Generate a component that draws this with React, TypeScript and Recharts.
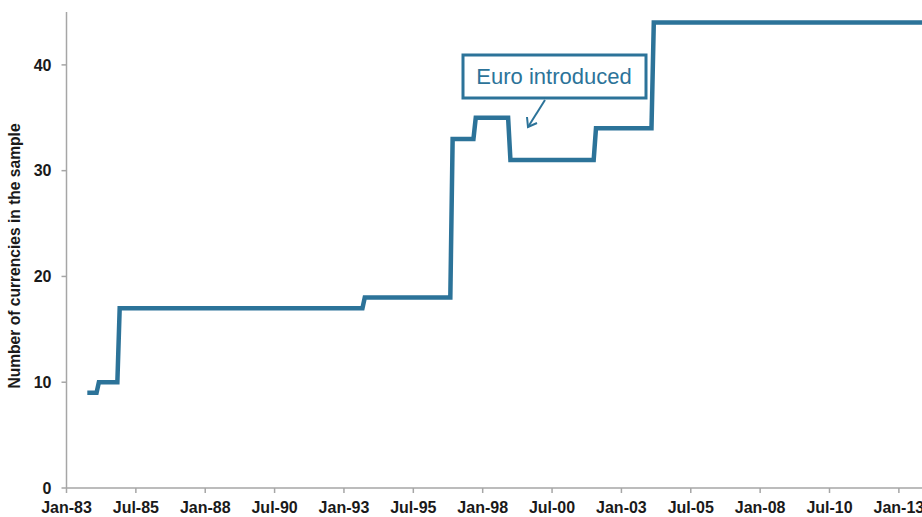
import { LineChart, Line, XAxis, YAxis } from 'recharts'

// change points of the step line (month, currencies)
const dates = [
  '1983-10', '1984-02', '1984-03', '1984-11', '1984-12', '1993-09', '1993-10',
  '1996-11', '1996-12', '1997-09', '1997-10', '1998-12', '1999-01', '2002-01',
  '2002-02', '2004-02', '2004-03', '2013-11',
]
const counts = [9, 9, 10, 10, 17, 17, 18, 18, 33, 33, 35, 35, 31, 31, 34, 34, 44, 44]

const tickDates = [
  '1983-01', '1985-07', '1988-01', '1990-07', '1993-01', '1995-07', '1998-01',
  '2000-07', '2003-01', '2005-07', '2008-01', '2010-07', '2013-01',
]
const tickLabels = [
  'Jan-83', 'Jul-85', 'Jan-88', 'Jul-90', 'Jan-93', 'Jul-95', 'Jan-98',
  'Jul-00', 'Jan-03', 'Jul-05', 'Jan-08', 'Jul-10', 'Jan-13',
]
const yTicks = [0, 10, 20, 30, 40]

const BLUE = '#2c7399'
const GRID = '#a6a6a6'
const FONT = '"Liberation Sans", Arial, sans-serif'

const toMonth = (d: string) => {
  const [y, m] = d.split('-').map(Number)
  return (y - 1983) * 12 + (m - 1)
}

const data = dates.map((d, i) => ({ m: toMonth(d), v: counts[i] }))
const ticks = tickDates.map(toMonth)
const endMonth = toMonth('2013-11')

const tickStyle = { fontSize: 16, fontWeight: 700, fill: '#1a1a1a', fontFamily: FONT }

const YLabel = (props: any) => {
  const { viewBox } = props
  const x = viewBox.x + 14
  const y = viewBox.y + viewBox.height / 2 + 6
  return (
    <text
      x={x}
      y={y}
      transform={`rotate(-90, ${x}, ${y})`}
      textAnchor="middle"
      dominantBaseline="central"
      style={{ fontSize: 15.6, fontWeight: 700, fill: '#1a1a1a', fontFamily: FONT }}
    >
      Number of currencies in the sample
    </text>
  )
}

export default function App() {
  return (
    <div style={{ position: 'absolute', left: 0, top: 0, width: 922, height: 517 }}>
      <LineChart width={922} height={517} data={data} margin={{ top: 12, right: 0, bottom: 0, left: 0 }}>
        <XAxis
          dataKey="m"
          type="number"
          domain={[0, endMonth]}
          ticks={ticks}
          interval={0}
          tickFormatter={(m: number) => tickLabels[ticks.indexOf(m)]}
          height={29}
          tick={tickStyle}
          tickSize={5}
          tickMargin={9}
          stroke={GRID}
          strokeWidth={1.5}
          allowDataOverflow
        />
        <YAxis
          type="number"
          domain={[0, 45]}
          ticks={yTicks}
          interval={0}
          width={66.5}
          tick={tickStyle}
          tickSize={5}
          tickMargin={10}
          stroke={GRID}
          strokeWidth={1.5}
          label={{ content: YLabel }}
        />
        <Line
          type="linear"
          dataKey="v"
          stroke={BLUE}
          strokeWidth={4.5}
          dot={false}
          isAnimationActive={false}
        />
      </LineChart>
      <svg
        width={922}
        height={517}
        style={{ position: 'absolute', left: 0, top: 0, pointerEvents: 'none' }}
      >
        <rect x={463} y={55} width={183} height={43} fill="#fff" stroke={BLUE} strokeWidth={3} />
        <text
          x={554}
          y={84}
          textAnchor="middle"
          style={{ fontSize: 22, fill: BLUE, fontFamily: FONT }}
        >
          Euro introduced
        </text>
        <line x1={545} y1={100} x2={528} y2={127} stroke={BLUE} strokeWidth={2} />
        <polyline points="527,117 528,127 537,123" fill="none" stroke={BLUE} strokeWidth={2} />
      </svg>
    </div>
  )
}
